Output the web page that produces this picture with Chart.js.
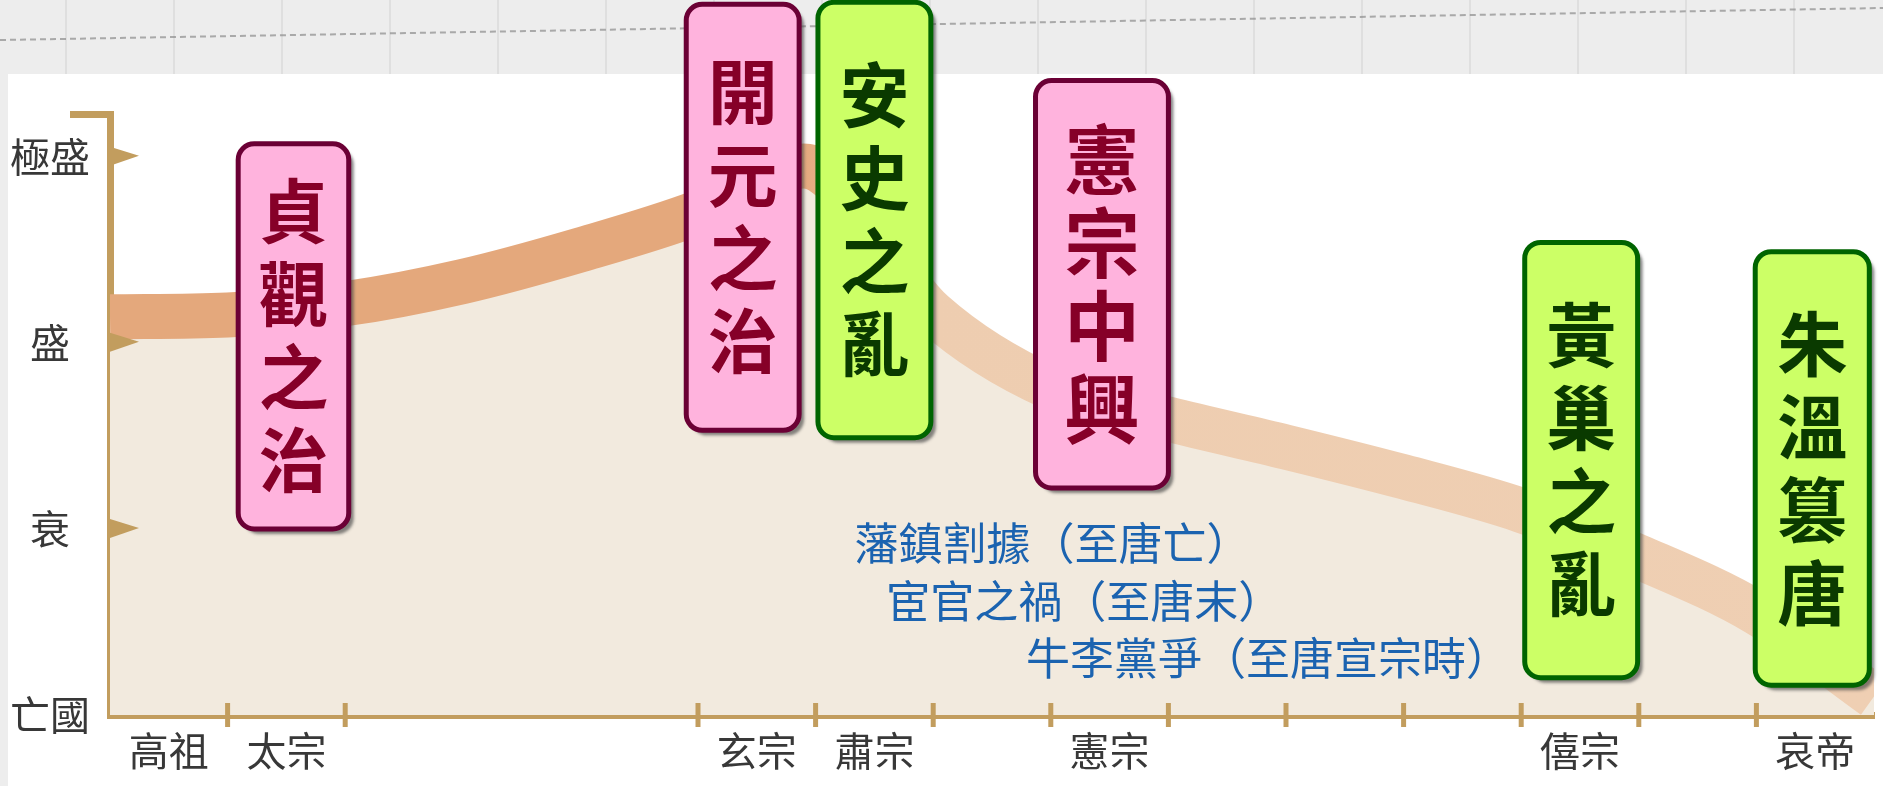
<!DOCTYPE html>
<html>
<head>
<meta charset="utf-8">
<script src="https://cdn.jsdelivr.net/npm/chart.js@4.4.1/dist/chart.umd.min.js"></script>
<style>
html, body { margin: 0; padding: 0; background: #fff; }
#wrap { position: relative; width: 1883px; height: 786px; }
</style>
</head>
<body>
<div id="wrap"><canvas id="tangChart" width="1883" height="786"></canvas></div>
<script>
// 唐朝國勢 — values; curveX is in reign-slot units (0..15)
const reignLabels = ['高祖', '太宗', '', '', '', '玄宗', '肅宗', '', '憲宗', '', '', '', '僖宗', '', '哀帝'];
const strengthLevels = ['亡國', '衰', '盛', '極盛'];
const curveX = [0, 1, 2, 3, 4, 5, 5.9, 7, 8, 9, 10, 11, 12, 13, 14, 15];
const curveY = [2.14, 2.15, 2.21, 2.33, 2.50, 2.70, 2.95, 2.16, 1.76, 1.59, 1.44, 1.28, 1.10, 0.85, 0.55, 0.10];
const eventNames = ['貞觀之治', '開元之治', '安史之亂', '憲宗中興', '黃巢之亂', '朱溫篡唐'];
const eventKinds = ['good', 'good', 'bad', 'good', 'bad', 'bad'];
const troubleNotes = ['藩鎮割據（至唐亡）', '宦官之禍（至唐末）', '牛李黨爭（至唐宣宗時）'];

// where the callouts sit, in scale units (x: reign slots, y: strength)
const eventPlacement = [
    { x0: 1.09, x1: 2.03, top: 3.07, bottom: 1.00, size: 70 },
    { x0: 4.90, x1: 5.86, top: 3.82, bottom: 1.53, size: 70 },
    { x0: 6.02, x1: 6.98, top: 3.83, bottom: 1.49, size: 70 },
    { x0: 7.87, x1: 9.00, top: 3.41, bottom: 1.22, size: 76 },
    { x0: 12.03, x1: 12.99, top: 2.54, bottom: 0.20, size: 70 },
    { x0: 13.99, x1: 14.96, top: 2.49, bottom: 0.16, size: 70 }
];
const notePlacement = [
    { x: 6.33, y: 0.925 },
    { x: 6.60, y: 0.613 },
    { x: 7.79, y: 0.306 }
];
const hiddenEdgeTicks = [0, 3, 4, 15];

const axisGold = '#C29D5E';
const kindStyle = {
    good: { fill: '#FFB3DD', stroke: '#6B0035', text: '#860028' },
    bad: { fill: '#CCFF66', stroke: '#006400', text: '#0A3A00' }
};
const cjk = '"Noto Sans CJK TC", "Noto Sans CJK SC", sans-serif';

const bandPoints = curveX.map((x, i) => ({ x: x, y: curveY[i] }));

function bandGradient(context) {
    const chart = context.chart;
    const area = chart.chartArea;
    if (!area) return '#E4A87C';
    const g = chart.ctx.createLinearGradient(area.left, 0, area.right, 0);
    g.addColorStop(0, '#E4A87C');
    g.addColorStop(0.39, '#E4A87C');
    g.addColorStop(0.46, '#EECDB0');
    g.addColorStop(1, '#EFCFB3');
    return g;
}

function roundedBox(ctx, x, y, w, h, r) {
    ctx.beginPath();
    ctx.moveTo(x + r, y);
    ctx.lineTo(x + w - r, y);
    ctx.arcTo(x + w, y, x + w, y + r, r);
    ctx.lineTo(x + w, y + h - r);
    ctx.arcTo(x + w, y + h, x + w - r, y + h, r);
    ctx.lineTo(x + r, y + h);
    ctx.arcTo(x, y + h, x, y + h - r, r);
    ctx.lineTo(x, y + r);
    ctx.arcTo(x, y, x + r, y, r);
    ctx.closePath();
}

const tangDecor = {
    id: 'tangDecor',
    beforeDraw(chart) {
        const ctx = chart.ctx;
        const W = chart.width, H = chart.height;
        ctx.save();
        ctx.fillStyle = '#EDEDED';
        ctx.fillRect(0, 0, W, H);
        ctx.strokeStyle = 'rgba(175,175,175,0.45)';
        ctx.lineWidth = 1;
        for (let x = 66; x < W; x += 108) {
            ctx.beginPath(); ctx.moveTo(x, 0); ctx.lineTo(x, 74); ctx.stroke();
        }
        ctx.setLineDash([6, 4]);
        ctx.strokeStyle = 'rgba(140,140,140,0.7)';
        ctx.lineWidth = 2;
        ctx.beginPath(); ctx.moveTo(0, 40); ctx.lineTo(W, 8); ctx.stroke();
        ctx.setLineDash([]);
        ctx.fillStyle = '#fff';
        ctx.fillRect(8, 74, W - 8, H - 74);
        ctx.restore();
    },
    afterDraw(chart) {
        const ctx = chart.ctx;
        const xs = chart.scales.x, ys = chart.scales.y;
        const left = chart.chartArea.left, bottom = chart.chartArea.bottom;
        ctx.save();

        // cap on top of the strength axis
        ctx.strokeStyle = axisGold;
        ctx.lineWidth = 7;
        ctx.beginPath();
        ctx.moveTo(left - 40, ys.top + 0.5);
        ctx.lineTo(left + 3, ys.top + 0.5);
        ctx.stroke();

        // arrow-like ticks on the strength axis
        ctx.fillStyle = axisGold;
        for (let v = 1; v < strengthLevels.length; v++) {
            const py = ys.getPixelForValue(v);
            ctx.beginPath();
            ctx.moveTo(left, py - 10);
            ctx.lineTo(left + 29, py - 1);
            ctx.lineTo(left, py + 9);
            ctx.closePath();
            ctx.fill();
        }

        // reign ticks crossing the time axis
        ctx.strokeStyle = axisGold;
        ctx.lineWidth = 5;
        for (let i = 0; i <= reignLabels.length; i++) {
            if (hiddenEdgeTicks.includes(i)) continue;
            const px = xs.getPixelForValue(i);
            ctx.beginPath();
            ctx.moveTo(px, bottom - 12);
            ctx.lineTo(px, bottom + 12);
            ctx.stroke();
        }

        // event callouts
        eventNames.forEach((name, i) => {
            const p = eventPlacement[i];
            const st = kindStyle[eventKinds[i]];
            const x0 = xs.getPixelForValue(p.x0), x1 = xs.getPixelForValue(p.x1);
            const y0 = ys.getPixelForValue(p.top), y1 = ys.getPixelForValue(p.bottom);
            ctx.save();
            ctx.shadowColor = 'rgba(70,70,70,0.65)';
            ctx.shadowOffsetX = 5;
            ctx.shadowOffsetY = 5;
            ctx.shadowBlur = 3;
            roundedBox(ctx, x0, y0, x1 - x0, y1 - y0, 16);
            ctx.fillStyle = st.fill;
            ctx.fill();
            ctx.restore();
            roundedBox(ctx, x0, y0, x1 - x0, y1 - y0, 16);
            ctx.lineWidth = 5;
            ctx.strokeStyle = st.stroke;
            ctx.stroke();

            const chars = Array.from(name);
            const cx = (x0 + x1) / 2, cy = (y0 + y1) / 2;
            const pitch = 83;
            ctx.fillStyle = st.text;
            ctx.font = 'bold ' + p.size + 'px ' + cjk;
            ctx.textAlign = 'center';
            ctx.textBaseline = 'middle';
            chars.forEach((ch, k) => {
                ctx.fillText(ch, cx, cy + (k - (chars.length - 1) / 2) * pitch);
            });
        });

        // long-running troubles
        ctx.fillStyle = '#1B63B0';
        ctx.font = '44px ' + cjk;
        ctx.textAlign = 'left';
        ctx.textBaseline = 'middle';
        troubleNotes.forEach((t, i) => {
            const p = notePlacement[i];
            ctx.fillText(t, xs.getPixelForValue(p.x), ys.getPixelForValue(p.y));
        });
        ctx.restore();
    }
};

new Chart(document.getElementById('tangChart'), {
    type: 'line',
    data: {
        labels: reignLabels,
        datasets: [{
            data: bandPoints,
            xAxisID: 'x',
            yAxisID: 'y',
            borderColor: bandGradient,
            borderWidth: 45,
            borderCapStyle: 'butt',
            backgroundColor: '#F2EADE',
            fill: 'origin',
            pointRadius: 0,
            cubicInterpolationMode: 'monotone'
        }]
    },
    options: {
        responsive: false,
        animation: false,
        events: [],
        layout: { padding: { top: 114, right: 9, left: 0, bottom: 0 } },
        plugins: { legend: { display: false }, tooltip: { enabled: false } },
        scales: {
            x: { type: 'linear', min: 0, max: reignLabels.length, display: false },
            reign: {
                type: 'category',
                labels: reignLabels,
                position: 'bottom',
                offset: true,
                z: 1,
                grid: { display: false, drawTicks: false },
                border: { display: true, color: axisGold, width: 7 },
                ticks: {
                    autoSkip: false,
                    maxRotation: 0,
                    padding: 12,
                    color: '#383838',
                    font: { family: cjk, size: 40 }
                },
                afterFit(scale) { scale.height = 71; }
            },
            y: {
                type: 'linear',
                min: 0,
                max: 3.23,
                z: 1,
                grid: { display: false, drawTicks: false },
                border: { display: true, color: axisGold, width: 7 },
                ticks: {
                    padding: 20,
                    crossAlign: 'center',
                    color: '#383838',
                    font: { family: cjk, size: 40 },
                    callback: (v) => strengthLevels[v] ?? null
                },
                afterBuildTicks(scale) {
                    scale.ticks = strengthLevels.map((_, v) => ({ value: v }));
                },
                afterFit(scale) { scale.width = 110; }
            }
        }
    },
    plugins: [tangDecor]
});
</script>
</body>
</html>
